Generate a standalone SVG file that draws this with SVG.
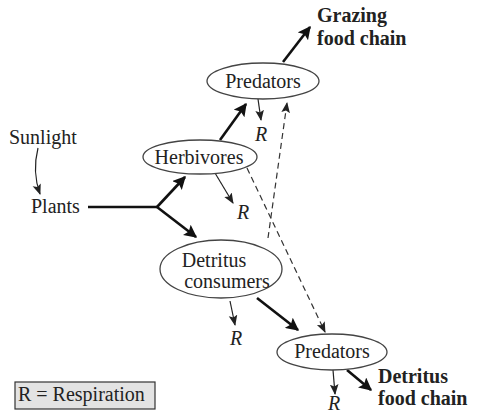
<svg xmlns="http://www.w3.org/2000/svg" width="477" height="415" viewBox="0 0 477 415">
<style>
text{fill:#222;font-size:20px}
.b{font-weight:bold;font-size:20px}
.i{font-style:italic}
.m{text-anchor:middle}
ellipse{fill:#fff;stroke:#444;stroke-width:1.3}
.thick{stroke:#111;stroke-width:2.6;fill:none}
.thin{stroke:#222;stroke-width:1.2;fill:none}
.dash{stroke:#333;stroke-width:1.2;fill:none;stroke-dasharray:6 4}
</style>
<defs>
<marker id="ah" viewBox="0 0 10 10" refX="9" refY="5" markerWidth="5" markerHeight="5" orient="auto" markerUnits="strokeWidth"><path d="M0,0 L10,5 L0,10 L2,5 z" fill="#111"/></marker>
<marker id="as" viewBox="0 0 10 10" refX="9" refY="5" markerWidth="9" markerHeight="9" orient="auto" markerUnits="strokeWidth"><path d="M0,1 L10,5 L0,9 L2,5 z" fill="#222"/></marker>
</defs>
<g id="connectors">
<path class="thick" d="M283,62 L310,27" marker-end="url(#ah)"/>
<path class="thick" d="M220,140 L246,104" marker-end="url(#ah)"/>
<path class="thin" d="M258,99 L261,120" marker-end="url(#as)"/>
<path class="dash" d="M268,238 L287,103" marker-end="url(#as)"/>
<path class="thin" d="M38,148 Q32,172 40,194" marker-end="url(#as)"/>
<path class="thick" d="M88,207 L157,207"/>
<path class="thick" d="M157,207 L185,177" marker-end="url(#ah)"/>
<path class="thick" d="M157,207 L196,237" marker-end="url(#ah)"/>
<path class="thin" d="M215,173 L233,203" marker-end="url(#as)"/>
<path class="dash" d="M247,168 L325,332" marker-end="url(#as)"/>
<path class="thin" d="M230,301 L235,325" marker-end="url(#as)"/>
<path class="thick" d="M257,298 L298,330" marker-end="url(#ah)"/>
<path class="thin" d="M333,370 L335,394" marker-end="url(#as)"/>
<path class="thick" d="M347,370 L371,390" marker-end="url(#ah)"/>
</g>
<g font-family="Liberation Serif, DejaVu Serif, serif">
<g id="grazing-label">
<text class="b" x="317" y="22">Grazing</text>
<text class="b" x="317" y="45">food chain</text>
</g>
<g id="predators-top">
<ellipse cx="263" cy="81" rx="56" ry="18"/>
<text class="m" x="263" y="88">Predators</text>
</g>
<g id="r-top"><text class="i" x="255" y="141">R</text></g>
<g id="sunlight"><text x="9" y="144">Sunlight</text></g>
<g id="plants"><text x="31" y="213">Plants</text></g>
<g id="herbivores">
<ellipse cx="200" cy="157" rx="57" ry="17"/>
<text class="m" x="199" y="164">Herbivores</text>
</g>
<g id="r-herb"><text class="i" x="237" y="219">R</text></g>
<g id="detritus-consumers">
<ellipse cx="221" cy="269" rx="61" ry="29"/>
<text class="m" x="214" y="267">Detritus</text>
<text class="m" x="227" y="288">consumers</text>
</g>
<g id="r-det"><text class="i" x="230" y="345">R</text></g>
<g id="predators-bottom">
<ellipse cx="332" cy="352" rx="55" ry="18"/>
<text class="m" x="332" y="358">Predators</text>
</g>
<g id="r-bottom"><text class="i" x="328" y="410">R</text></g>
<g id="detritus-label">
<text class="b" x="378" y="383">Detritus</text>
<text class="b" x="378" y="405">food chain</text>
</g>
<g id="legend">
<rect x="15" y="382" width="140" height="27" fill="#e3e3e3" stroke="#333" stroke-width="1.2"/>
<text x="18" y="401">R = Respiration</text>
</g>
</g>
</svg>
